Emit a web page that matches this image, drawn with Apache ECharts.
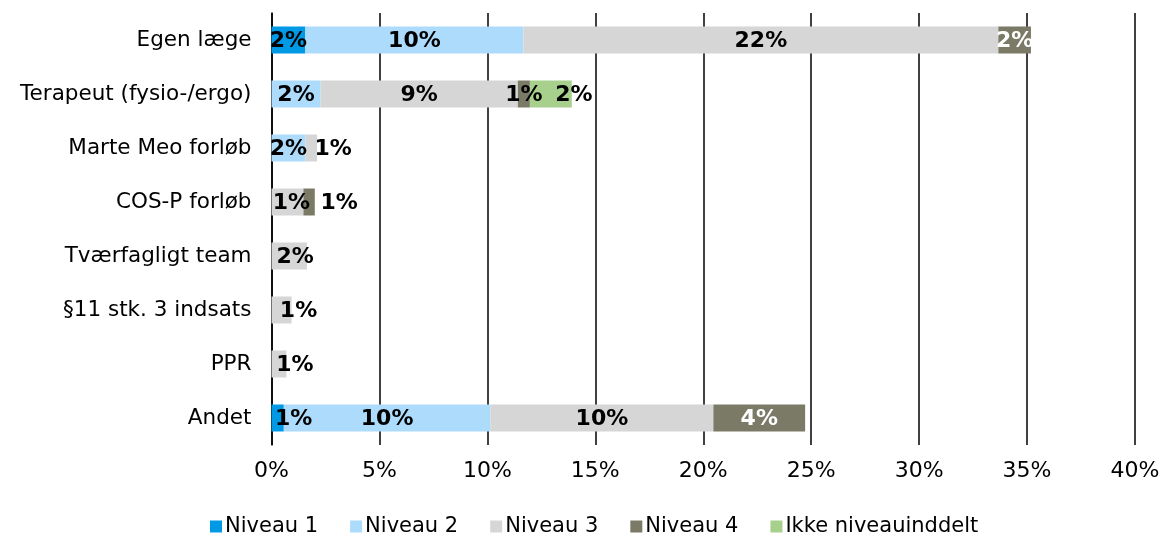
<!DOCTYPE html>
<html lang="da">
<head>
<meta charset="UTF-8">
<title>Niveauer</title>
<script src="https://cdn.jsdelivr.net/npm/echarts@6/dist/echarts.min.js"></script>
<style>
  html, body { margin: 0; padding: 0; background: #fff; }
  #main { width: 1163px; height: 534px; }
</style>
</head>
<body>
<div id="main"></div>
<script>
// kategorier (oppefra og ned)
const categories = ['Egen læge', 'Terapeut (fysio-/ergo)', 'Marte Meo forløb', 'COS-P forløb',
  'Tværfagligt team', '§11 stk. 3 indsats', 'PPR', 'Andet'];

// andele i procent
const niveau1 = [1.57, 0, 0, 0, 0, 0, 0, 0.57];
const niveau2 = [10.1, 2.27, 1.57, 0, 0, 0, 0, 9.57];
const niveau3 = [22.0, 9.14, 0.54, 1.48, 1.64, 0.93, 0.69, 10.33];
const niveau4 = [1.51, 0.56, 0, 0.525, 0, 0, 0, 4.25];
const ikkeNiveau = [0, 1.94, 0, 0, 0, 0, 0, 0];

const xTicks = [0, 5, 10, 15, 20, 25, 30, 35, 40];

const chart = echarts.init(document.getElementById('main'));
const FONT = 'DejaVu Sans';

// labels der er flyttet lidt til højre for små segmenter
const nudge = {
  'Niveau 1': { 7: 16 },
  'Niveau 3': { 2: 22, 3: 4, 4: 6, 5: 17, 6: 16 },
  'Niveau 4': { 3: 30 },
  'Ikke niveauinddelt': { 1: 23 }
};
// hvide labels
const whiteLabels = { 'Niveau 4': [0, 7] };

function makeSeries(name, values, color) {
  return {
    name: name,
    type: 'bar',
    stack: 'total',
    barWidth: '50%',
    itemStyle: { color: color },
    data: values.map((v, i) => {
      if (!v) return { value: v, label: { show: false } };
      const dx = (nudge[name] && nudge[name][i]) || 0;
      const white = whiteLabels[name] && whiteLabels[name].includes(i);
      return {
        value: v,
        label: {
          show: true,
          position: 'inside',
          offset: [dx, 1],
          color: white ? '#fff' : '#000'
        }
      };
    }),
    label: {
      show: true,
      fontFamily: FONT,
      fontSize: 22,
      fontWeight: 'bold',
      formatter: p => Math.round(p.value) + '%'
    }
  };
}

const option = {
  animation: false,
  textStyle: { fontFamily: FONT },
  grid: { left: 271.5, right: 28, top: 13, bottom: 89 },
  legend: {
    left: 205,
    top: 511,
    itemWidth: 12,
    itemHeight: 12,
    itemGap: 32,
    icon: 'rect',
    textStyle: { fontFamily: FONT, fontSize: 21, color: '#000', padding: [0, 0, 0, -2] },
    data: ['Niveau 1', 'Niveau 2', 'Niveau 3', 'Niveau 4', 'Ikke niveauinddelt']
  },
  xAxis: {
    type: 'value',
    min: xTicks[0],
    max: xTicks[xTicks.length - 1],
    interval: 5,
    axisLine: { show: false },
    axisTick: { show: false },
    splitLine: { show: true, lineStyle: { color: '#000', width: 1.5 } },
    axisLabel: { fontFamily: FONT, fontSize: 22, color: '#000', margin: 15, formatter: '{value}%' }
  },
  yAxis: {
    type: 'category',
    inverse: true,
    data: categories,
    axisLine: { show: true, lineStyle: { color: '#000', width: 1.5 } },
    axisTick: { show: false },
    axisLabel: { fontFamily: FONT, fontSize: 21.5, color: '#000', margin: 20 }
  },
  series: [
    makeSeries('Niveau 1', niveau1, '#0099E6'),
    makeSeries('Niveau 2', niveau2, '#ADDBFB'),
    makeSeries('Niveau 3', niveau3, '#D6D6D6'),
    makeSeries('Niveau 4', niveau4, '#7A7A67'),
    makeSeries('Ikke niveauinddelt', ikkeNiveau, '#A8D08D')
  ]
};

chart.setOption(option);
</script>
</body>
</html>
